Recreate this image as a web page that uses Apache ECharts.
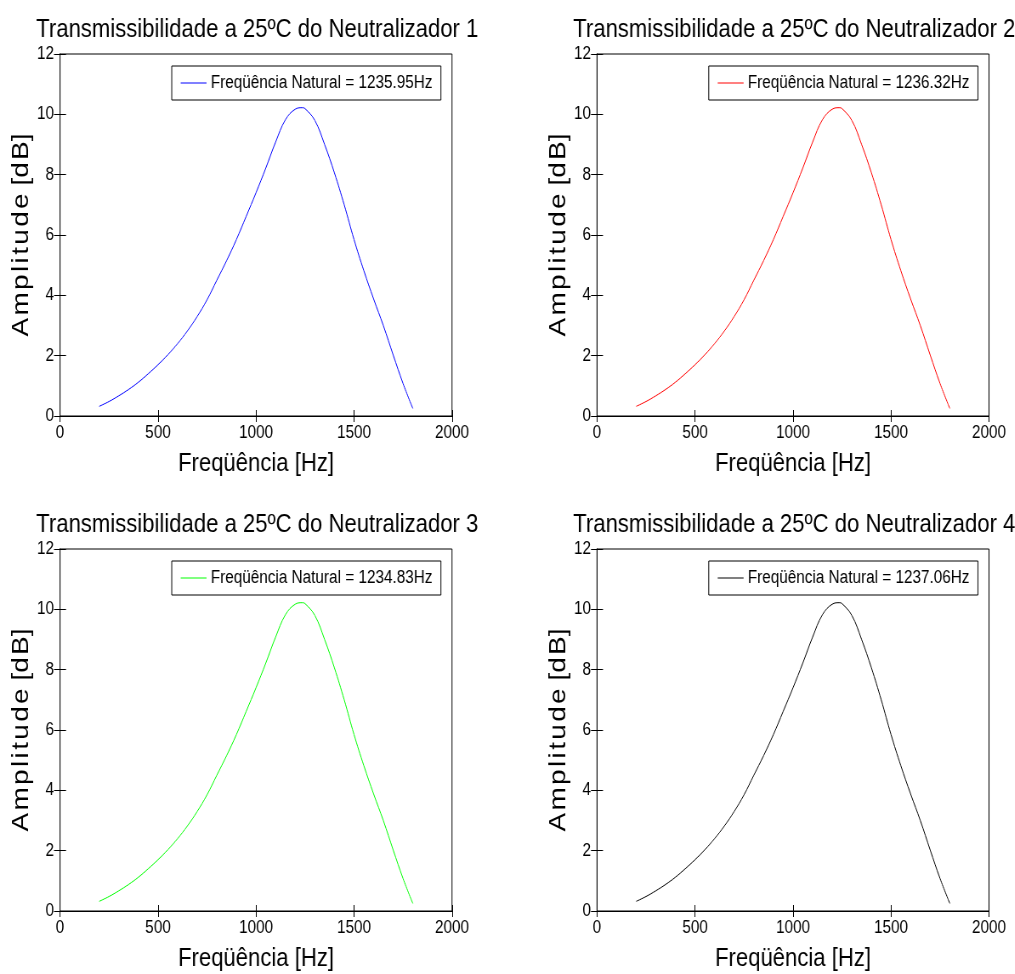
<!DOCTYPE html>
<html>
<head>
<meta charset="utf-8">
<script src="https://cdn.jsdelivr.net/npm/echarts@6/dist/echarts.min.js"></script>
<style>
  html, body { margin: 0; padding: 0; background: #fff; overflow: hidden; }
  /* a fonte do original e estreita: desenha mais largo e comprime na horizontal */
  #chart { width: 1194px; height: 974px; transform: scaleX(0.85); transform-origin: 0 0; }
</style>
</head>
<body>
<div id="chart"></div>
<script>
// frequencias (Hz) e amplitudes (dB)
var freq = [200, 250, 300, 350, 400, 450, 500, 550, 600, 650, 700, 750, 800, 850, 900, 950,
            1000, 1050, 1100, 1150, 1200, 1235, 1250, 1300, 1350, 1400, 1450, 1500, 1550,
            1600, 1650, 1700, 1750, 1800];
var amplitude = [0.32, 0.48, 0.67, 0.88, 1.12, 1.40, 1.70, 2.03, 2.40, 2.82, 3.30, 3.85, 4.50,
                 5.15, 5.85, 6.62, 7.40, 8.22, 9.08, 9.82, 10.17, 10.22, 10.19, 9.80, 9.00,
                 8.06, 7.00, 5.85, 4.82, 3.88, 2.99, 2.02, 1.08, 0.25];
var titulos = ['Transmissibilidade a 25ºC do Neutralizador 1', 'Transmissibilidade a 25ºC do Neutralizador 2',
               'Transmissibilidade a 25ºC do Neutralizador 3', 'Transmissibilidade a 25ºC do Neutralizador 4'];
var legendas = ['Freqüência Natural = 1235.95Hz', 'Freqüência Natural = 1236.32Hz',
                'Freqüência Natural = 1234.83Hz', 'Freqüência Natural = 1237.06Hz'];
var xTicks = [0, 500, 1000, 1500, 2000];
var yTicks = [0, 2, 4, 6, 8, 10, 12];
var cores = ['#0000ff', '#ff0000', '#00ff00', '#000000'];

var S = 0.85; // compressao horizontal
var fonte = "'Liberation Sans', Arial, sans-serif";
var hs = '\u200A'; // espaco fino entre as letras do eixo y
var nomeY = ['A', 'm', 'p', 'l', 'i', 't', 'u', 'd', 'e'].join(hs) + ' ' + ['[d', 'B]'].join(hs);
var chart = echarts.init(document.getElementById('chart'));

// posicao de cada painel (pixels da imagem final)
var paineis = [
    {left: 60, top: 54},
    {left: 597, top: 54},
    {left: 60, top: 549},
    {left: 597, top: 549}
];
var W = 392, H = 362;

var grid = [], xAxis = [], yAxis = [], series = [], title = [], legend = [];
var dados = freq.map(function (f, i) { return [f, amplitude[i]]; });

paineis.forEach(function (p, i) {
    grid.push({left: p.left / S, top: p.top, width: W / S, height: H, show: true,
        borderColor: '#000', borderWidth: 1, backgroundColor: '#fff'});
    title.push({text: titulos[i], left: (p.left + W / 2 - 3) / S, top: p.top - 42, textAlign: 'center',
        textStyle: {fontFamily: fonte, fontSize: 26, fontWeight: 'normal', color: '#000'}});
    legend.push({
        data: [legendas[i]],
        right: (1015 - (p.left + W - 11)) / S, top: p.top + 12,
        borderColor: '#000', borderWidth: 1, backgroundColor: '#fff',
        padding: [8, 10, 8, 10.5], itemWidth: 30.5, itemHeight: 1, itemGap: 8, icon: 'rect',
        textStyle: {fontFamily: fonte, fontSize: 18, color: '#000'}
    });
    var baseX = {
        gridIndex: i, type: 'value', min: xTicks[0], max: xTicks[xTicks.length - 1], interval: 500,
        splitLine: {show: false},
        axisLine: {lineStyle: {color: '#000', width: 1}},
        axisTick: {inside: true, length: 6, lineStyle: {color: '#000'}}
    };
    xAxis.push(Object.assign({}, baseX, {
        position: 'bottom',
        name: 'Freqüência [Hz]', nameLocation: 'middle', nameGap: 35,
        nameTextStyle: {fontFamily: fonte, fontSize: 26, color: '#000'},
        axisLabel: {fontFamily: fonte, fontSize: 18, color: '#000', margin: 8,
            formatter: function (v) { return String(v); }}
    }));
    xAxis.push(Object.assign({}, baseX, {position: 'top', axisLabel: {show: false}}));
    var baseY = {
        gridIndex: i, type: 'value', min: yTicks[0], max: yTicks[yTicks.length - 1], interval: 2,
        splitLine: {show: false},
        axisLine: {lineStyle: {color: '#000', width: 1}},
        axisTick: {inside: true, length: 6 / S, lineStyle: {color: '#000'}}
    };
    yAxis.push(Object.assign({}, baseY, {
        position: 'left',
        name: nomeY, nameLocation: 'middle', nameGap: 26,
        nameTextStyle: {fontFamily: fonte, fontSize: 28, color: '#000'},
        axisLabel: {fontFamily: fonte, fontSize: 18, color: '#000', margin: 7}
    }));
    yAxis.push(Object.assign({}, baseY, {position: 'right', axisLabel: {show: false}}));
    series.push({
        name: legendas[i], type: 'line', xAxisIndex: i * 2, yAxisIndex: i * 2,
        data: dados, showSymbol: false, symbol: 'none', smooth: 0.4,
        lineStyle: {color: cores[i], width: 1}, itemStyle: {color: cores[i]},
        animation: false
    });
});

chart.setOption({
    animation: false,
    title: title,
    legend: legend,
    grid: grid,
    xAxis: xAxis,
    yAxis: yAxis,
    series: series
});
</script>
</body>
</html>
